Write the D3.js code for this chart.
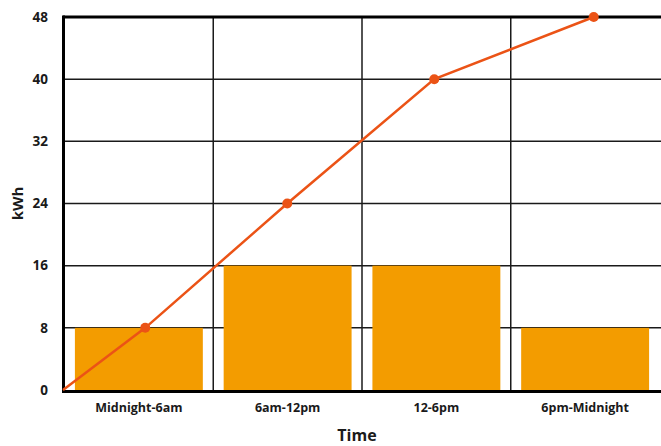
<!DOCTYPE html>
<html>
<head>
<meta charset="utf-8">
<script src="https://cdn.jsdelivr.net/npm/d3@7"></script>
<style>
  html, body { margin: 0; padding: 0; background: #fff; }
  svg { display: block; }
  text { font-family: "Open Sans", "Noto Sans", sans-serif; fill: #1a1a1a; }
</style>
</head>
<body>
<svg id="chart" width="661" height="446"></svg>
<script>
// Energy use per six-hour block, plus the running total through the day
const periods = ["Midnight-6am", "6am-12pm", "12-6pm", "6pm-Midnight"];
const usage = [8, 16, 16, 8];
const cumulativeHours = [0, 3.3, 9, 14.9, 21.3];
const cumulativeKwh = [0, 8, 24, 40, 48];
const yTicks = [0, 8, 16, 24, 32, 40, 48];

const svg = d3.select("#chart");
const margin = { top: 17, right: 0, bottom: 56, left: 63 };
const W = 661, H = 446;
const x0 = margin.left, x1 = W - margin.right;
const y0 = H - margin.bottom, y1 = margin.top;

const x = d3.scaleBand().domain(periods).range([x0, x1])
  .paddingInner(0.14).paddingOuter(0.08);
const xt = d3.scaleLinear().domain([0, 24]).range([x0, x1]);
const y = d3.scaleLinear().domain([0, 48]).range([y0, y1]);

// horizontal grid
svg.append("g")
  .selectAll("line").data(yTicks.slice(1, -1)).join("line")
  .attr("x1", x0).attr("x2", x1)
  .attr("y1", d => y(d)).attr("y2", d => y(d))
  .attr("stroke", "#1a1a1a").attr("stroke-width", 1.5);

// vertical grid at block boundaries
const step = x.step();
svg.append("g")
  .selectAll("line").data(periods.slice(1)).join("line")
  .attr("x1", d => x(d) - step * x.paddingInner() / 2)
  .attr("x2", d => x(d) - step * x.paddingInner() / 2)
  .attr("y1", y0).attr("y2", y1)
  .attr("stroke", "#1a1a1a").attr("stroke-width", 1.5);

// bars
svg.append("g")
  .selectAll("rect").data(periods).join("rect")
  .attr("x", d => x(d))
  .attr("width", x.bandwidth())
  .attr("y", (d, i) => y(usage[i]))
  .attr("height", (d, i) => y(0) - y(usage[i]))
  .attr("fill", "#F39C00");

// frame: left, top and bottom edges
svg.append("line").attr("x1", x0).attr("x2", x1).attr("y1", y1).attr("y2", y1)
  .attr("stroke", "#000").attr("stroke-width", 3);
svg.append("line").attr("x1", x0).attr("x2", x1).attr("y1", y0 + 1.5).attr("y2", y0 + 1.5)
  .attr("stroke", "#000").attr("stroke-width", 3);
svg.append("line").attr("x1", x0 + 0.5).attr("x2", x0 + 0.5).attr("y1", y1 - 1.5).attr("y2", y0 + 3)
  .attr("stroke", "#000").attr("stroke-width", 3);

// cumulative line
const pts = cumulativeHours.map((h, i) => [xt(h), y(cumulativeKwh[i])]);
svg.append("path")
  .attr("d", d3.line()(pts))
  .attr("fill", "none").attr("stroke", "#EB5316").attr("stroke-width", 2.5);
svg.append("g")
  .selectAll("circle").data(pts.slice(1)).join("circle")
  .attr("cx", d => d[0]).attr("cy", d => d[1]).attr("r", 5)
  .attr("fill", "#EB5316");

// y axis labels
const yAxis = d3.axisLeft(y).tickValues(yTicks).tickSize(0).tickPadding(15);
const gy = svg.append("g").attr("transform", `translate(${x0},0)`).call(yAxis);
gy.select(".domain").remove();
gy.selectAll("text").style("font-size", "13.5px").style("font-weight", 700)
  .attr("fill", "#1a1a1a");

// x axis labels
const xAxis = d3.axisBottom(x).tickSize(0).tickPadding(13);
const gx = svg.append("g").attr("transform", `translate(0,${y0})`).call(xAxis);
gx.select(".domain").remove();
gx.selectAll("text").style("font-size", "12.5px").style("font-weight", 700)
  .attr("fill", "#1a1a1a");

// axis titles
svg.append("text").attr("x", (x0 + x1) / 2 - 5).attr("y", 441)
  .attr("text-anchor", "middle").style("font-size", "16px").style("font-weight", 700)
  .text("Time");
svg.append("text")
  .attr("transform", `translate(23,${(y0 + y1) / 2}) rotate(-90)`)
  .attr("text-anchor", "middle").style("font-size", "15px").style("font-weight", 700)
  .text("kWh");
</script>
</body>
</html>
